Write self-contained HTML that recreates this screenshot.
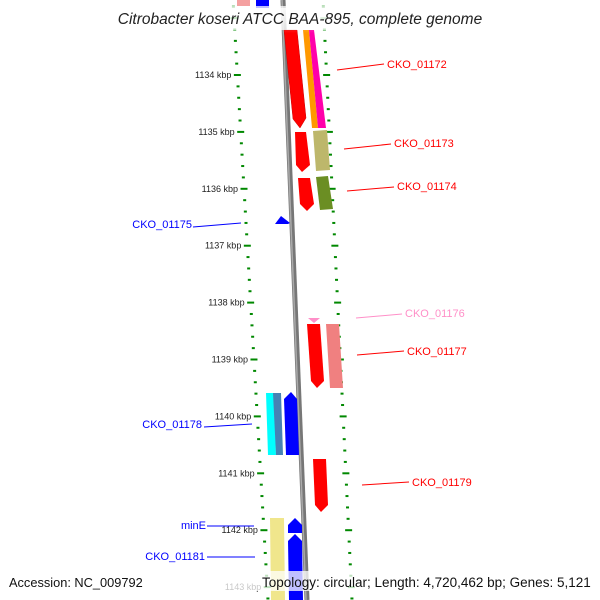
<!DOCTYPE html>
<html><head><meta charset="utf-8"><style>
body{margin:0;background:#fff}
svg{display:block;font-family:"Liberation Sans",sans-serif}
</style></head><body>
<svg id="map" width="600" height="600" viewBox="0 0 600 600">
<defs>
<linearGradient id="fadeTop" x1="0" y1="0" x2="0" y2="1"><stop offset="0" stop-color="#fff" stop-opacity="0.8"/><stop offset="1" stop-color="#fff" stop-opacity="0"/></linearGradient>
</defs>
<g id="backbone">
<line x1="283" y1="0" x2="307" y2="600" stroke="#777" stroke-width="5"/>
<line x1="282" y1="0" x2="306" y2="600" stroke="#aaa" stroke-width="1.5"/>
</g>
<g id="ticks"></g>
<g id="genes">
<polygon points="237,0 250,0 250,6 237,6" fill="#f4a0a0"/>
<polygon points="256,0 269,0 269,8 256,8" fill="#00f"/>
<polygon points="284,30 297,30 306,118 300,128 293,119" fill="#f00" stroke="#c00" stroke-width="0.5"/>
<polygon points="303,30 309,30 318,128 312,128" fill="#f90"/>
<polygon points="309,30 314,30 326,128 318,128" fill="#f0a"/>
<rect x="280" y="8" width="50" height="25" fill="url(#fadeTop)"/>
<polygon points="295,132 306,132 310,165 302,172 296,165" fill="#f00"/>
<polygon points="313,131 327,130 330,170 316,171" fill="#bdb76b"/>
<polygon points="298,178 310,178 314,204 307,211 300,204" fill="#f00"/>
<polygon points="316,177 328,176 333,209 320,210" fill="#6b8e23"/>
<polygon points="275,224 281,216 290,223 288,224" fill="#00f"/>
<polygon points="308,318 320,318 314,323" fill="#ff8fc8"/>
<polygon points="307,324 320,324 324,381 317,388 311,381" fill="#f00"/>
<polygon points="326,324 339,324 343,388 330,388" fill="#f08080"/>
<polygon points="266,393 274,393 276,455 268,455" fill="#0ff"/>
<polygon points="273,393 281,393 283,455 276,455" fill="#4682b4"/>
<polygon points="284,399 291,392 297,399 299,455 286,455" fill="#00f"/>
<polygon points="313,459 326,459 328,505 321,512 315,505" fill="#f00"/>
<polygon points="270,518 284,518 285,600 271,600" fill="#f0e68c"/>
<polygon points="288,525 295,518 302,525 302,533 288,533" fill="#00f"/>
<polygon points="288,541 295,534 302,541 303,600 289,600" fill="#00f"/>
</g>
<g id="labels" font-size="11">
<line x1="337" y1="70" x2="384" y2="64" stroke="#f00"/><text x="387" y="68" fill="#f00">CKO_01172</text>
<line x1="344" y1="149" x2="391" y2="144" stroke="#f00"/><text x="394" y="147" fill="#f00">CKO_01173</text>
<line x1="347" y1="191" x2="394" y2="187" stroke="#f00"/><text x="397" y="190" fill="#f00">CKO_01174</text>
<line x1="193" y1="227" x2="241" y2="223" stroke="#00f"/><text x="192" y="228" fill="#00f" text-anchor="end">CKO_01175</text>
<line x1="356" y1="318" x2="402" y2="314" stroke="#ff8fc8"/><text x="405" y="317" fill="#ff8fc8">CKO_01176</text>
<line x1="357" y1="355" x2="404" y2="351" stroke="#f00"/><text x="407" y="355" fill="#f00">CKO_01177</text>
<line x1="204" y1="427" x2="252" y2="424" stroke="#00f"/><text x="202" y="428" fill="#00f" text-anchor="end">CKO_01178</text>
<line x1="362" y1="485" x2="409" y2="482" stroke="#f00"/><text x="412" y="486" fill="#f00">CKO_01179</text>
<line x1="207" y1="526" x2="254" y2="526" stroke="#00f"/><text x="206" y="529" fill="#00f" text-anchor="end">minE</text>
<line x1="207" y1="557" x2="255" y2="557" stroke="#00f"/><text x="205" y="560" fill="#00f" text-anchor="end">CKO_01181</text>
</g>
<rect x="0" y="6" width="600" height="24" fill="#fff" opacity="0.75"/>
<text x="300" y="24" font-size="15.5" font-style="italic" text-anchor="middle" fill="#222">Citrobacter koseri ATCC BAA-895, complete genome</text>
<rect x="0" y="571" width="600" height="20" fill="#fff" opacity="0.75"/>
<text x="9" y="587" font-size="12.8" fill="#111">Accession: NC_009792</text>
<text x="262" y="587" font-size="13.5" fill="#111">Topology: circular; Length: 4,720,462 bp; Genes: 5,121</text>
</svg>
<script>
const tickKbp=[1134,1135,1136,1137,1138,1139,1140,1141,1142,1143];
const firstKbp=1134, kbpPx=56.9, firstY=75;
function yOf(k){return firstY+(k-firstKbp)*kbpPx;}
function leftX(y){return 233+y*(35/600);}
function rightX(y){return 323+y*(29/600);}
const g=document.getElementById('ticks');
const NS='http://www.w3.org/2000/svg';
for(let k=firstKbp-1.4;k<=1143.3;k+=0.2){
  const y=yOf(k); if(y<0||y>600) continue;
  const major=Math.abs(k-Math.round(k))<0.01;
  [leftX(y),rightX(y)].forEach(x=>{
    const r=document.createElementNS(NS,'rect');
    
    
    const w=major?7:3;
    r.setAttribute('x',x-w/2);r.setAttribute('y',y-1);r.setAttribute('width',w);r.setAttribute('height',2);r.setAttribute('fill','#080');
    g.appendChild(r);
  });
}
tickKbp.forEach(k=>{
  const y=yOf(k);
  const t=document.createElementNS(NS,'text');
  
  
  t.setAttribute('x',leftX(y)-6);t.setAttribute('y',y+3);t.setAttribute('font-size','9');t.setAttribute('text-anchor','end');t.setAttribute('fill','#222');
  t.textContent=k+' kbp';g.appendChild(t);
});
</script>
</body></html>
